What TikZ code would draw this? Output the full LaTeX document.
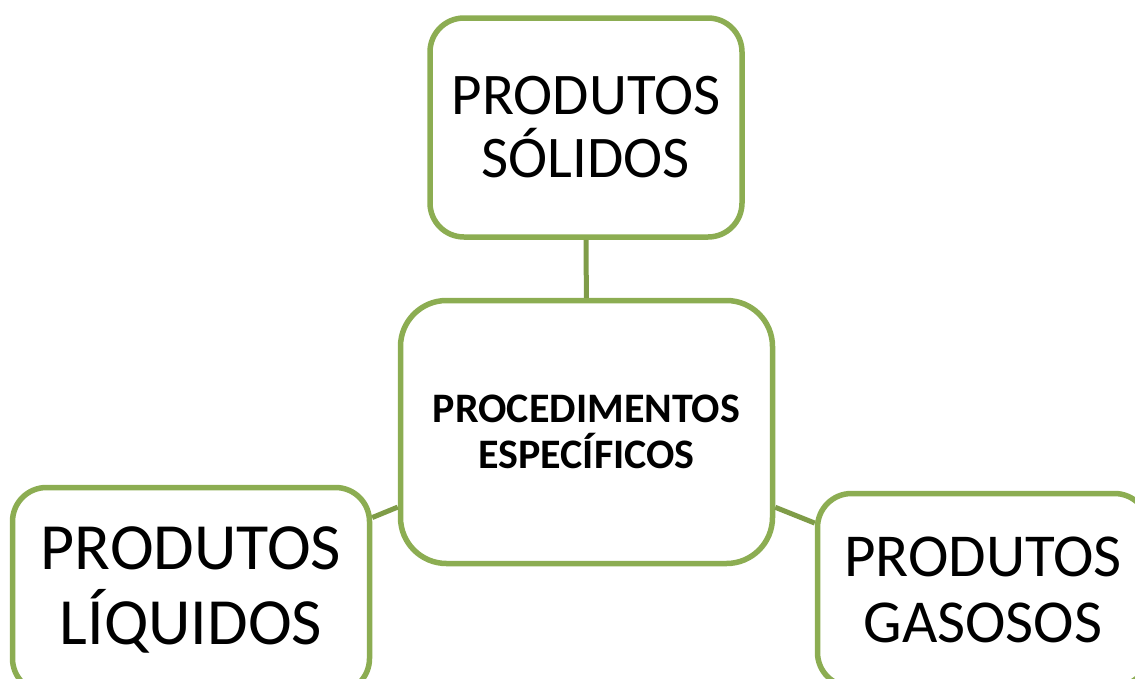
\documentclass[tikz,border=0pt]{standalone}
\usepackage{fontspec}
\setmainfont{Carlito}
\usetikzlibrary{positioning}
\definecolor{boxgreen}{HTML}{8CAD52}
\definecolor{linkgreen}{HTML}{7F9C48}

\begin{document}
\begin{tikzpicture}[x=1pt, y=-1pt,
    prodbox/.style={draw=boxgreen, line width=5.5pt, rounded corners=34pt, fill=white, align=center, inner sep=0pt},
    link/.style={draw=linkgreen, line width=5pt}]
    % Frame
    \useasboundingbox (0,0) rectangle (1135,678);
    \clip (0,0) rectangle (1135,678);

    % Boxes
    \node[prodbox, minimum width=312pt, minimum height=219pt,
          font=\fontsize{59}{63}\selectfont] (solidos) at (586,127.5) {PRODUTOS\\SÓLIDOS};
    \node[prodbox, rounded corners=46pt, minimum width=372pt, minimum height=263pt,
          font=\fontsize{42}{46}\selectfont\bfseries] (proc) at (586.5,432) {PROCEDIMENTOS\\ESPECÍFICOS};
    \node[prodbox, minimum width=357pt, minimum height=205pt,
          font=\fontsize{66}{75}\selectfont] (liquidos) at (191,590) {PRODUTOS\\LÍQUIDOS};
    \node[prodbox, minimum width=331pt, minimum height=193pt,
          font=\fontsize{61}{66}\selectfont] (gasosos) at (983,590) {PRODUTOS\\GASOSOS};

    % Connectors
    \draw[link] (solidos) -- (proc);
    \draw[link] (liquidos) -- (proc);
    \draw[link] (proc) -- (gasosos);
\end{tikzpicture}
\end{document}
